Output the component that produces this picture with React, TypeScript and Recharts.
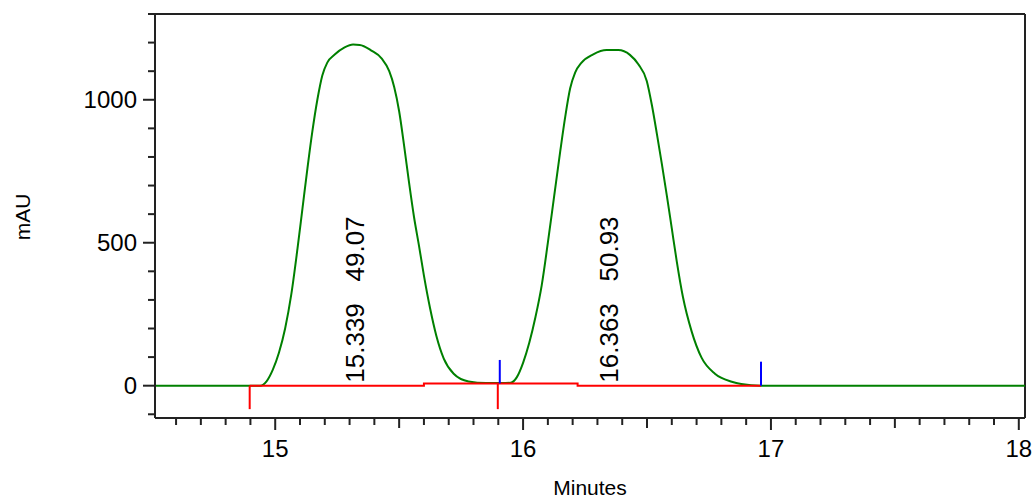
import React from 'react';
import { LineChart, Line, XAxis, YAxis, ReferenceDot, ReferenceLine } from 'recharts';

// green detector trace (minutes, mAU)
const traceTime = [
  14.515, 14.94, 14.965, 14.99, 15.015, 15.04, 15.065, 15.09, 15.11, 15.13, 15.15, 15.17,
  15.19, 15.21, 15.24, 15.28, 15.314, 15.341, 15.388, 15.429, 15.46, 15.48, 15.5, 15.52,
  15.54, 15.56, 15.58, 15.6, 15.625, 15.65, 15.68, 15.72, 15.78, 15.85, 15.91, 15.95,
  15.975, 16.0, 16.025, 16.05, 16.075, 16.1, 16.125, 16.15, 16.17, 16.19, 16.21, 16.236,
  16.283, 16.337, 16.384, 16.431, 16.465, 16.499, 16.52, 16.54, 16.56, 16.58, 16.6, 16.62,
  16.645, 16.68, 16.72, 16.774, 16.842, 16.88, 16.96, 18.025,
];
const traceAbs = [
  0, 0, 15, 55, 115, 200, 320, 480, 620, 760, 890, 1000,
  1085, 1130, 1158, 1183, 1193, 1192, 1172, 1145, 1100, 1045, 960, 840,
  710, 590, 490, 385, 270, 175, 95, 42, 15, 9, 9, 10,
  30, 80, 150, 240, 350, 500, 660, 820, 940, 1040, 1095, 1130,
  1159, 1174, 1174, 1157, 1124, 1066, 980, 880, 775, 665, 550, 435,
  310, 190, 98, 42, 14, 6, 0, 0,
];

// red integration baseline
const baseTime = [14.897, 15.6, 15.6, 16.22, 16.22, 16.96];
const baseAbs = [0, 0, 8, 8, 0, 0];

// peak start (red) and peak end (blue) event marks
const startMarks = [
  { t: 14.897, from: 0, to: -82 },
  { t: 15.898, from: 8, to: -82 },
];
const endMarks = [
  { t: 15.906, from: 8, to: 90 },
  { t: 16.96, from: 0, to: 84 },
];

const peakRT = [15.339, 16.363];
const peakArea = ['49.07', '50.93'];

const xDomain = [14.515, 18.025];
const yDomain = [-113, 1300];
const xTicks = [
  14.6, 14.7, 14.8, 14.9, 15, 15.1, 15.2, 15.3, 15.4, 15.5, 15.6, 15.7, 15.8, 15.9, 16,
  16.1, 16.2, 16.3, 16.4, 16.5, 16.6, 16.7, 16.8, 16.9, 17, 17.1, 17.2, 17.3, 17.4, 17.5,
  17.6, 17.7, 17.8, 17.9, 18,
];
const xMajor = [15, 16, 17, 18];
const xMedium = [15.5, 16.5, 17.5];
const yTicks = [-100, 0, 100, 200, 300, 400, 500, 600, 700, 800, 900, 1000, 1100, 1200, 1300];
const yMajor = [0, 500, 1000];

const FONT = '"Liberation Sans", Arial, sans-serif';
const AXIS = '#222';

const trace = traceTime.map((x, i) => ({ x, y: traceAbs[i] }));
const baseline = baseTime.map((x, i) => ({ x, y: baseAbs[i] }));

const near = (list: number[], v: number) => list.some((m) => Math.abs(m - v) < 1e-6);

function XTick(props: any) {
  const { x, y, payload } = props;
  const v = payload.value;
  const major = near(xMajor, v);
  const len = major ? 12 : near(xMedium, v) ? 10 : 7;
  return (
    <g>
      <line x1={x} x2={x} y1={y} y2={y + len} stroke={AXIS} strokeWidth={2} />
      {major && (
        <text x={x} y={y + 39} textAnchor="middle" fontSize={24} fontFamily={FONT} fill="#000">
          {v}
        </text>
      )}
    </g>
  );
}

function YTick(props: any) {
  const { x, y, payload } = props;
  const v = payload.value;
  const major = near(yMajor, v);
  return (
    <g>
      <line x1={x} x2={x - (major ? 12 : 7)} y1={y} y2={y} stroke={AXIS} strokeWidth={2} />
      {major && (
        <text x={x - 18} y={y + 8.5} textAnchor="end" fontSize={24} fontFamily={FONT} fill="#000">
          {v}
        </text>
      )}
    </g>
  );
}

function PeakLabel({ cx, cy, rt, area }: any) {
  const tx = cx + 5;
  const ty = cy - 3;
  return (
    <text
      x={tx}
      y={ty}
      transform={`rotate(-90 ${tx} ${ty})`}
      fontSize={26}
      fontFamily={FONT}
      fill="#000"
      style={{ whiteSpace: 'pre' }}
    >
      {`${rt.toFixed(3)}   ${area}`}
    </text>
  );
}

export default function App() {
  return (
    <div style={{ position: 'absolute', left: 0, top: 0, background: '#fff' }}>
      <LineChart width={1035} height={503} margin={{ top: 14, right: 10, left: 0, bottom: 0 }}>
        <XAxis
          dataKey="x"
          type="number"
          domain={xDomain}
          allowDataOverflow
          ticks={xTicks}
          interval={0}
          height={85}
          tickSize={0}
          tickMargin={0}
          tickLine={false}
          axisLine={{ stroke: AXIS, strokeWidth: 2 }}
          tick={<XTick />}
          label={{
            content: () => (
              <text x={590} y={495} textAnchor="middle" fontSize={21} fontFamily={FONT} fill="#000">
                Minutes
              </text>
            ),
          }}
        />
        <YAxis
          type="number"
          domain={yDomain}
          allowDataOverflow
          ticks={yTicks}
          interval={0}
          width={155}
          tickSize={0}
          tickMargin={0}
          tickLine={false}
          axisLine={{ stroke: AXIS, strokeWidth: 2 }}
          tick={<YTick />}
          label={{
            content: () => (
              <text
                x={30}
                y={217}
                transform="rotate(-90 30 217)"
                textAnchor="middle"
                fontSize={21}
                fontFamily={FONT}
                fill="#000"
              >
                mAU
              </text>
            ),
          }}
        />
        {/* frame: top and right edges of the plot box */}
        <ReferenceLine y={yDomain[1]} stroke={AXIS} strokeWidth={2} ifOverflow="visible" />
        <ReferenceLine x={xDomain[1]} stroke={AXIS} strokeWidth={2} ifOverflow="visible" />
        <Line
          data={trace}
          dataKey="y"
          type="monotone"
          stroke="#008000"
          strokeWidth={2}
          dot={false}
          isAnimationActive={false}
        />
        <Line
          data={baseline}
          dataKey="y"
          type="linear"
          stroke="#ff0000"
          strokeWidth={2}
          dot={false}
          isAnimationActive={false}
        />
        {startMarks.map((m, i) => (
          <Line
            key={`s${i}`}
            data={[
              { x: m.t, y: m.from },
              { x: m.t, y: m.to },
            ]}
            dataKey="y"
            type="linear"
            stroke="#ff0000"
            strokeWidth={2}
            dot={false}
            isAnimationActive={false}
          />
        ))}
        {endMarks.map((m, i) => (
          <Line
            key={`e${i}`}
            data={[
              { x: m.t, y: m.from },
              { x: m.t, y: m.to },
            ]}
            dataKey="y"
            type="linear"
            stroke="#0000ff"
            strokeWidth={2}
            dot={false}
            isAnimationActive={false}
          />
        ))}
        {peakRT.map((rt, i) => (
          <ReferenceDot
            key={`p${i}`}
            x={rt}
            y={0}
            r={0}
            shape={(p: any) => <PeakLabel cx={p.cx} cy={p.cy} rt={rt} area={peakArea[i]} />}
          />
        ))}
      </LineChart>
    </div>
  );
}
